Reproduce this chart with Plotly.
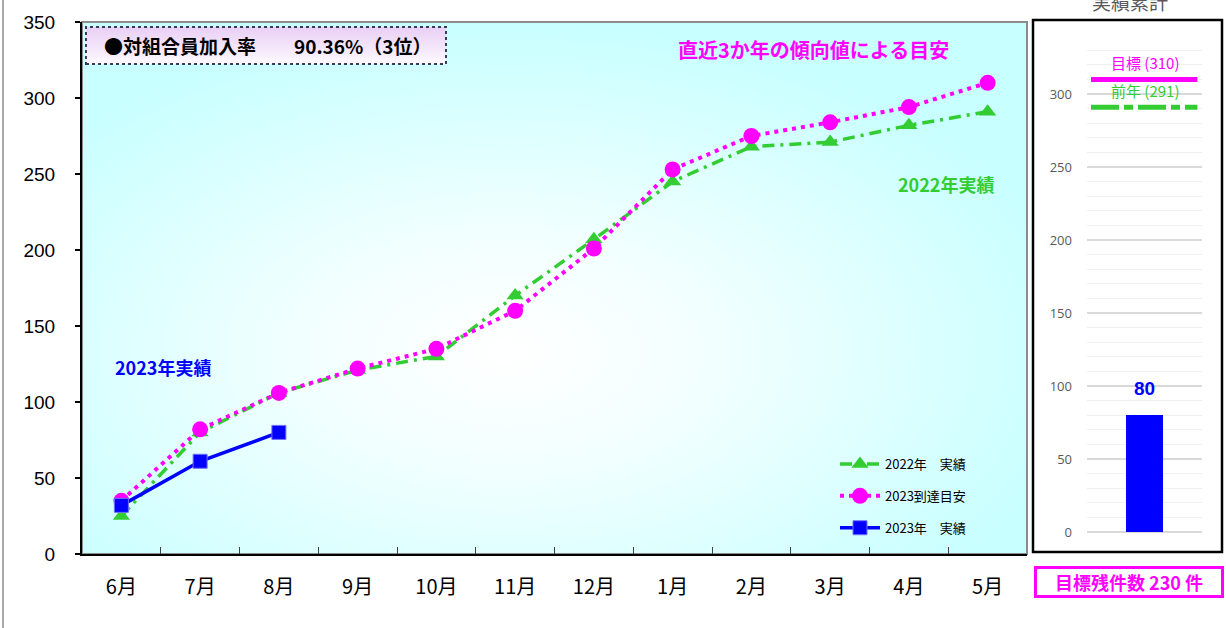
import base64
import plotly.graph_objects as go

# ---------------- data ----------------
months = ["6月", "7月", "8月", "9月", "10月", "11月", "12月", "1月", "2月", "3月", "4月", "5月"]
results_2022 = [25, 80, 106, 121, 130, 170, 207, 245, 268, 271, 282, 291]
target_2023 = [35, 82, 106, 122, 135, 160, 201, 253, 275, 284, 294, 310]
results_2023 = [32, 61, 80]

goal_total = 310
prev_total = 291
cum_total = 80
remaining = goal_total - cum_total

main_yticks = [0, 50, 100, 150, 200, 250, 300, 350]
side_yticks = [0, 50, 100, 150, 200, 250, 300]
side_minor = list(range(0, 331, 10))

W, H = 1226, 628
JP = "Noto Sans CJK JP"

GREEN = "#33cc33"
MAGENTA = "#ff00ff"
BLUE = "#0000ff"


def px(x):
    return x / W


def py(y):
    return 1 - y / H


# plot area of main chart (pixels)
MX0, MX1, MY0, MY1 = 82, 1027, 22, 554
# right panel box
BX0, BX1, BY0, BY1 = 1033, 1222, 20, 552

fig = go.Figure()

fig.add_trace(go.Scatter(
    x=months, y=results_2022, name="2022年　実績", mode="lines+markers",
    line=dict(color=GREEN, width=3.5, dash="12px,6px,3px,6px"),
    marker=dict(symbol="triangle-up", size=15, color=GREEN),
    legendgroup="a", xaxis="x", yaxis="y"))
fig.add_trace(go.Scatter(
    x=months, y=target_2023, name="2023到達目安", mode="lines+markers",
    line=dict(color=MAGENTA, width=4, dash="4px,5px"),
    marker=dict(symbol="circle", size=16, color=MAGENTA),
    legendgroup="b", xaxis="x", yaxis="y"))
fig.add_trace(go.Scatter(
    x=months[:len(results_2023)], y=results_2023, name="2023年　実績", mode="lines+markers",
    line=dict(color=BLUE, width=3.5),
    marker=dict(symbol="square", size=14, color=BLUE, line=dict(color="#7070ff", width=1)),
    legendgroup="c", xaxis="x", yaxis="y"))

# right panel
fig.add_trace(go.Bar(x=[0], y=[cum_total], width=0.32, marker=dict(color=BLUE, line=dict(width=0)),
                     showlegend=False, xaxis="x2", yaxis="y2"))
fig.add_trace(go.Scatter(x=[-0.465, 0.46], y=[goal_total, goal_total], mode="lines",
                         line=dict(color=MAGENTA, width=5), showlegend=False,
                         xaxis="x2", yaxis="y2"))
fig.add_trace(go.Scatter(x=[-0.465, 0.46], y=[prev_total, prev_total], mode="lines",
                         line=dict(color=GREEN, width=5, dash="28px,5px,9px,5px"),
                         showlegend=False, xaxis="x2", yaxis="y2"))

# background gradient images
bg_svg = ('<svg xmlns="http://www.w3.org/2000/svg" width="945" height="532" viewBox="0 0 945 532" '
          'preserveAspectRatio="none"><defs><radialGradient id="g" cx="0.45" cy="0.62" r="0.62">'
          '<stop offset="0" stop-color="#ffffff"/><stop offset="0.35" stop-color="#f2ffff"/>'
          '<stop offset="1" stop-color="#c8ffff"/></radialGradient></defs>'
          '<rect width="945" height="532" fill="url(#g)"/></svg>')
box_svg = ('<svg xmlns="http://www.w3.org/2000/svg" width="360" height="37" viewBox="0 0 360 37" '
           'preserveAspectRatio="none"><defs><linearGradient id="b" x1="0" y1="0" x2="0" y2="1">'
           '<stop offset="0" stop-color="#e9cff5"/><stop offset="1" stop-color="#fdf9fe"/>'
           '</linearGradient></defs><rect width="360" height="37" fill="url(#b)"/></svg>')


def uri(s):
    return "data:image/svg+xml;base64," + base64.b64encode(s.encode()).decode()


images = [
    dict(source=uri(bg_svg), xref="paper", yref="paper", x=px(MX0), y=py(MY0),
         sizex=px(MX1) - px(MX0), sizey=py(MY0) - py(MY1), sizing="stretch",
         xanchor="left", yanchor="top", layer="below"),
    dict(source=uri(box_svg), xref="paper", yref="paper", x=px(86), y=py(27),
         sizex=px(446) - px(86), sizey=py(27) - py(64), sizing="stretch",
         xanchor="left", yanchor="top", layer="below"),
]

shapes = [
    # page left border
    dict(type="line", xref="paper", yref="paper", x0=px(3), x1=px(3), y0=0, y1=1,
         line=dict(color="#8c8c8c", width=1.5)),
    # main plot border
    dict(type="rect", xref="paper", yref="paper", x0=px(MX0), x1=px(MX1), y0=py(MY1), y1=py(MY0),
         line=dict(color="#8c8c8c", width=2), layer="below"),
    # rate box
    dict(type="rect", xref="paper", yref="paper", x0=px(86), x1=px(446), y0=py(64), y1=py(27),
         line=dict(color="#3a3a5a", width=2, dash="dot")),
    # right panel box
    dict(type="rect", xref="paper", yref="paper", x0=px(BX0), x1=px(BX1), y0=py(BY1), y1=py(BY0),
         line=dict(color="#000000", width=2.5)),
]


def ann(text, x, y, size, color, **kw):
    d = dict(text=text, xref="paper", yref="paper", x=px(x), y=py(y), showarrow=False,
             xanchor="center", yanchor="middle", font=dict(family=JP, size=size, color=color))
    d.update(kw)
    return d


annotations = [
    ann("<b>●対組合員加入率　　90.36%（3位）</b>", 268, 45.5, 19, "#000000"),
    ann("<b>直近3か年の傾向値による目安</b>", 813, 50, 20, MAGENTA),
    ann("<b>2022年実績</b>", 946, 184, 18, GREEN),
    ann("<b>2023年実績</b>", 163, 367, 18, BLUE),
    ann("実績累計", 1130, 1, 19, "#595959"),
    dict(text=f"目標 ({goal_total})", xref="x2", yref="y2", x=0, y=goal_total, yanchor="bottom",
         xanchor="center", yshift=4, showarrow=False, font=dict(family=JP, size=15, color=MAGENTA)),
    dict(text=f"前年 ({prev_total})", xref="x2", yref="y2", x=0, y=prev_total, yanchor="bottom",
         xanchor="center", yshift=4, showarrow=False, font=dict(family=JP, size=15, color=GREEN)),
    dict(text=f"<b>{cum_total}</b>", xref="x2", yref="y2", x=0, y=cum_total, yanchor="bottom",
         xanchor="center", yshift=14, showarrow=False,
         font=dict(family="Liberation Sans", size=19, color=BLUE)),
    ann(f"<b>目標残件数 {remaining} 件</b>", 1128.5, 582, 18, MAGENTA,
        width=184, height=26, bordercolor=MAGENTA, borderwidth=3, borderpad=0),
]

fig.update_layout(
    width=W, height=H, margin=dict(l=0, r=0, t=0, b=0, autoexpand=False),
    paper_bgcolor="#ffffff", plot_bgcolor="rgba(0,0,0,0)",
    showlegend=True, bargap=0,
    legend=dict(x=px(835), y=py(449), xanchor="left", yanchor="top",
                bgcolor="rgba(0,0,0,0)", tracegroupgap=12, traceorder="grouped",
                font=dict(family=JP, size=13, color="#000000"), itemwidth=40),
    xaxis=dict(domain=[px(MX0), px(MX1)], anchor="y", type="category", automargin=False,
               range=[-0.5, len(months) - 0.5],
               showline=True, linecolor="#000000", linewidth=2,
               ticks="inside", tickson="boundaries", ticklen=7, tickcolor="#404040", tickwidth=1,
               showgrid=False, zeroline=False, ticklabelstandoff=14,
               tickfont=dict(family=JP, size=20, color="#000000")),
    yaxis=dict(domain=[py(MY1), py(MY0)], anchor="x", range=[0, 350], automargin=False,
               tickvals=main_yticks, showline=True, linecolor="#000000", linewidth=2,
               ticks="outside", ticklen=5, tickcolor="#000000", tickwidth=2,
               showgrid=False, zeroline=False, ticklabelstandoff=16,
               tickfont=dict(family="Liberation Sans", size=19, color="#000000")),
    xaxis2=dict(domain=[px(1087), px(1202)], anchor="y2", range=[-0.5, 0.5], automargin=False,
                visible=False, fixedrange=True),
    yaxis2=dict(domain=[py(BY1), py(BY0)], anchor="x2", range=[-13.7, 350.7], automargin=False,
                tickvals=side_yticks, showline=False, ticks="", zeroline=False,
                showgrid=True, gridcolor="#d9d9d9", gridwidth=1.5,
                minor=dict(tickvals=side_minor, showgrid=True, gridcolor="#f0f0f0", gridwidth=1),
                ticklabelstandoff=14,
                tickfont=dict(family="Open Sans", size=13, color="#595959")),
    images=images, shapes=shapes, annotations=annotations,
)

fig.write_html("out.html", config={"displayModeBar": False},
               post_script="document.body.style.margin='0';")
